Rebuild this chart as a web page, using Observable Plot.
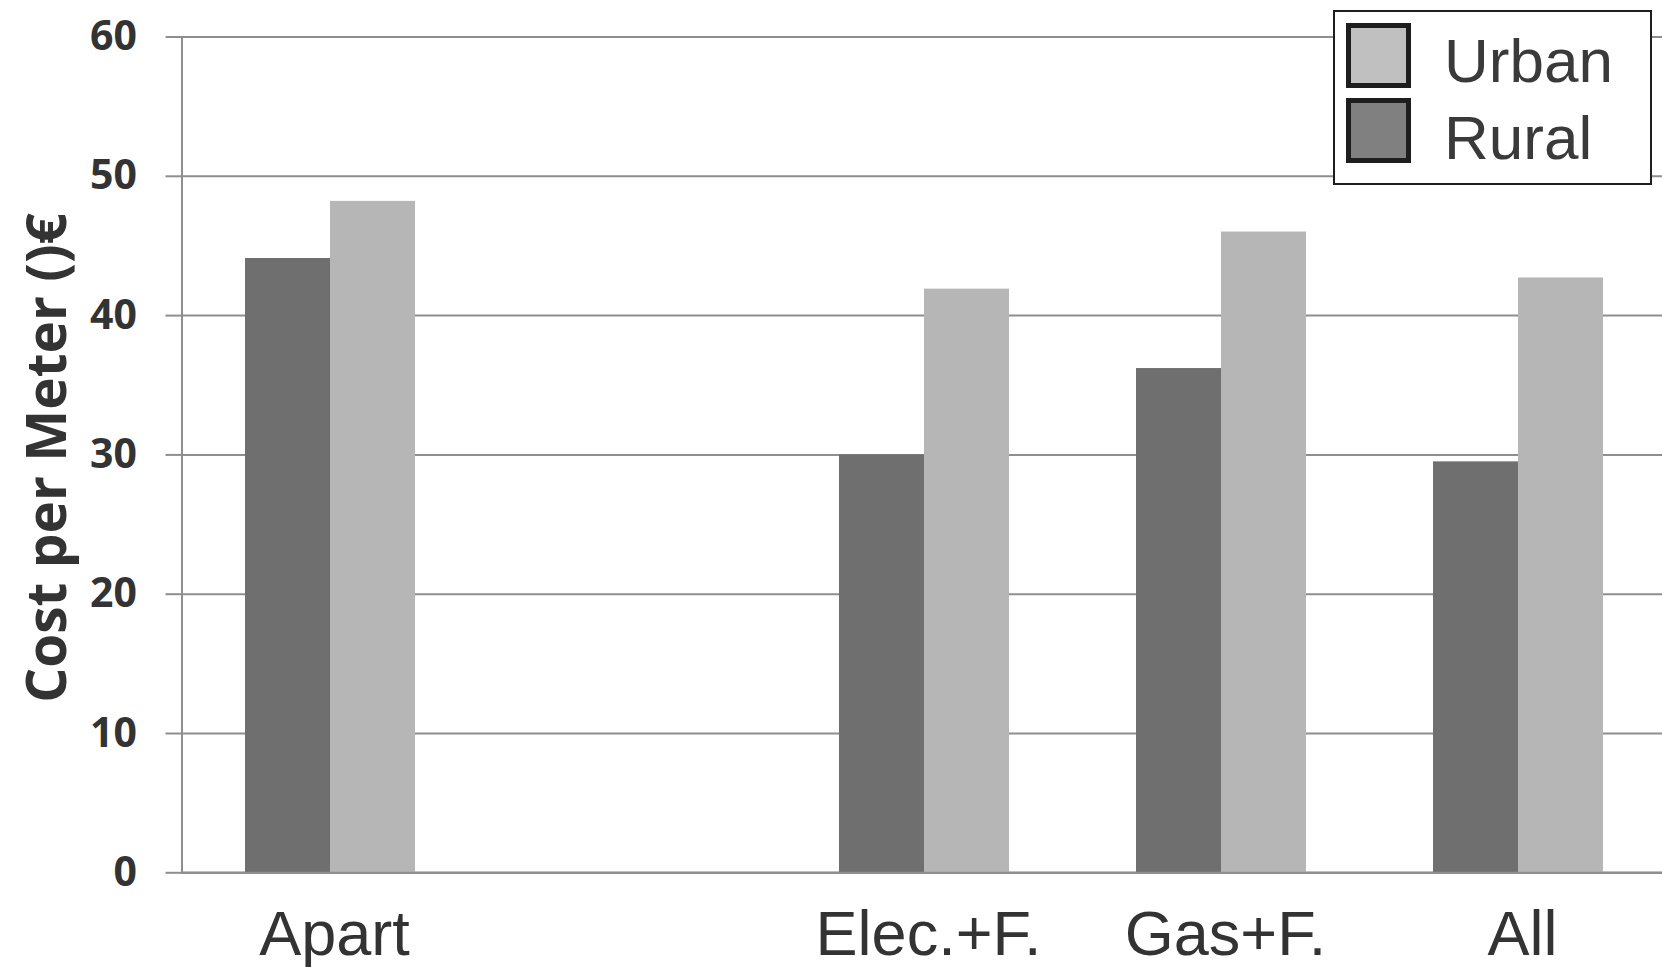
<!DOCTYPE html>
<html>
<head>
<meta charset="utf-8">
<script src="https://cdn.jsdelivr.net/npm/d3@7"></script>
<script src="https://cdn.jsdelivr.net/npm/@observablehq/plot@0.6"></script>
<style>
  html, body { margin: 0; padding: 0; background: #fff; overflow: hidden; }
  #wrap { position: relative; width: 1662px; height: 967px; }
  #legend { position: absolute; left: 0; top: 0; pointer-events: none; }
</style>
</head>
<body>
<div id="wrap"></div>
<script>
// ---- data ----
const categories = ["Apart", "", "Elec.+F.", "Gas+F.", "All"];
const rural = [44.1, null, 30.0, 36.2, 29.5];
const urban = [48.2, null, 41.9, 46.0, 42.7];
const yTicks = [0, 10, 20, 30, 40, 50, 60];
const yLabel = "Cost per Meter ()€";
const legendNames = ["Urban", "Rural"];
const legendColors = ["#c0c0c0", "#808080"];

const rows = categories.map((c, i) => ({category: c, rural: rural[i], urban: urban[i]}));

const gridColor = "#8e8e8e";
const textColor = "#333333";

const chart = Plot.plot({
  width: 1662,
  height: 967,
  marginLeft: 181.5,
  marginRight: -4.5,
  marginTop: 36.5,
  marginBottom: 94.7,
  style: {fontFamily: "Liberation Sans, Arial, sans-serif", background: "#fff"},
  x: {domain: categories, paddingInner: 0.4276, paddingOuter: 0.2138, align: 0.5, round: false},
  y: {domain: [0, 60], ticks: yTicks},
  marks: [
    Plot.gridY(yTicks, {stroke: gridColor, strokeOpacity: 1, strokeWidth: 2}),
    Plot.frame({stroke: gridColor, strokeWidth: 2}),
    Plot.barY(rows, {x: "category", y: "rural", fill: "#6f6f6f", insetRight: 85}),
    Plot.barY(rows, {x: "category", y: "urban", fill: "#b6b6b6", insetLeft: 85}),
    Plot.ruleY([0], {stroke: gridColor, strokeWidth: 2}),
    Plot.axisY(yTicks, {
      tickSize: 16, tickPadding: 29, stroke: gridColor, strokeWidth: 2,
      fill: textColor, fontSize: 41, fontWeight: "bold",
      fontFamily: "Open Sans", label: null
    }),
    Plot.axisX({
      tickSize: 0, tickPadding: 37, fontSize: 63, fill: textColor,
      fontFamily: "Liberation Sans", label: null, dx: 4
    }),
    Plot.text([yLabel], {
      frameAnchor: "left", textAnchor: "middle", lineAnchor: "middle",
      dx: -134, dy: 3, rotate: -90, fontSize: 55,
      fontWeight: "bold", fontFamily: "Open Sans", fill: textColor
    })
  ]
});

const wrap = document.getElementById("wrap");
wrap.appendChild(chart);

// ---- legend ----
const ns = "http://www.w3.org/2000/svg";
const lg = document.createElementNS(ns, "svg");
lg.setAttribute("id", "legend");
lg.setAttribute("width", 1662);
lg.setAttribute("height", 967);
function el(name, attrs, text) {
  const e = document.createElementNS(ns, name);
  for (const k in attrs) e.setAttribute(k, attrs[k]);
  if (text != null) e.textContent = text;
  lg.appendChild(e);
  return e;
}
el("rect", {x: 1334, y: 11, width: 317, height: 173, fill: "#fff", stroke: "#1e1e1e", "stroke-width": 2});
legendNames.forEach((name, i) => {
  el("rect", {x: 1348.5, y: 25.5 + i * 75, width: 60, height: 60, fill: legendColors[i], stroke: "#1e1e1e", "stroke-width": 5});
  el("text", {x: 1444, y: 82 + i * 77, "font-family": "Liberation Sans, Arial, sans-serif", "font-size": 62, fill: "#3a3a3a"}, name);
});
wrap.appendChild(lg);
</script>
</body>
</html>
